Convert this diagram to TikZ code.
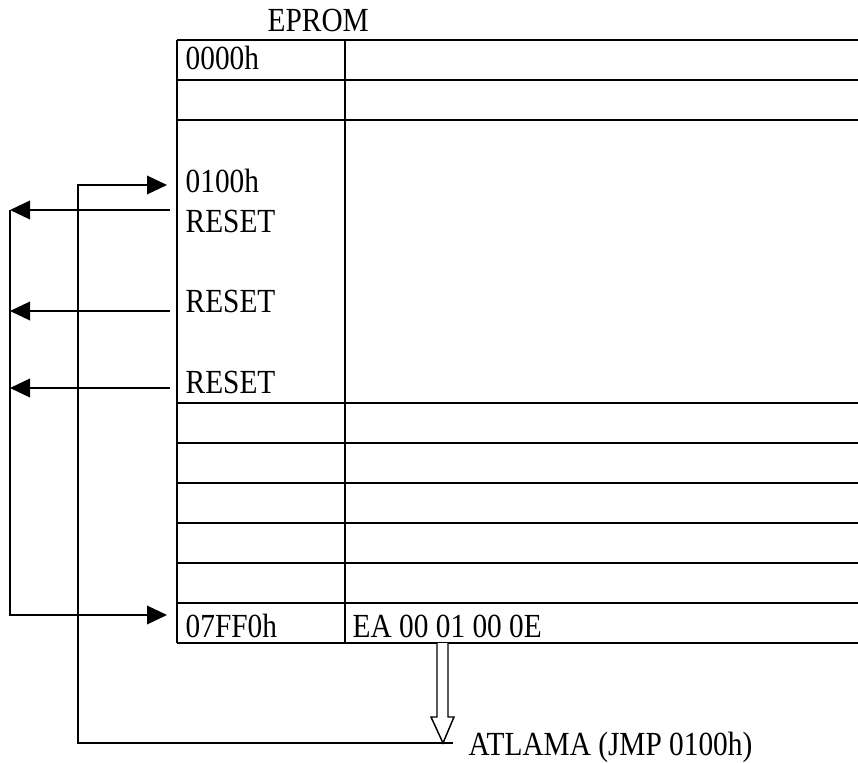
\documentclass[tikz,border=0pt]{standalone}
\usepackage{fontspec}
\setmainfont{Liberation Serif}
\usetikzlibrary{arrows.meta}
\newcommand{\talltxt}[1]{\scalebox{1}[1.15]{#1}}
\begin{document}
\begin{tikzpicture}[x=0.75pt,y=-0.75pt,line width=1.1pt,
  lbl/.style={anchor=base west,inner sep=0pt,font=\fontsize{22}{24}\selectfont},
  tipline/.style={-{Triangle[length=15pt,width=14pt]}},
  grid/.style={line width=1.1pt}]
\useasboundingbox (0,0) rectangle (858,763);
% table
\foreach \yy in {40,80,120,403,443,483,523,563,603,643}
  \draw[grid] (177,\yy) -- (858,\yy);
\draw[grid] (177,40) -- (177,643);
\draw[grid] (345,40) -- (345,643);
% texts
\node[lbl] (eprom) at (267,32) {\talltxt{EPROM}};
\node[lbl] (a0) at (185,70) {\talltxt{0000h}};
\node[lbl] (a100) at (185,193) {\talltxt{0100h}};
\node[lbl] (r1) at (185,233) {\talltxt{RESET}};
\node[lbl] (r2) at (185,313) {\talltxt{RESET}};
\node[lbl] (r3) at (185,393) {\talltxt{RESET}};
\node[lbl] (f0) at (185,637) {\talltxt{07FF0h}};
\node[lbl] (code) at (352,637) {\talltxt{EA 00 01 00 0E}};
\node[lbl] (jmp) at (468,755) {\talltxt{ATLAMA (JMP 0100h)}};
% connector coordinates
\coordinate (r1s) at (170,210);
\coordinate (r2s) at (170,311);
\coordinate (r3s) at (170,388);
\coordinate (r1e) at (10,210);
\coordinate (r2e) at (10,311);
\coordinate (r3e) at (10,388);
\coordinate (lb) at (10,615);
\coordinate (f0t) at (167,615);
\coordinate (mt) at (78,185);
\coordinate (a100t) at (167,185);
\coordinate (mb) at (78,743);
\coordinate (jb) at (453,743);
% reset arrows
\draw[tipline] (r1s) -- (r1e);
\draw[tipline] (r2s) -- (r2e);
\draw[tipline] (r3s) -- (r3e);
\draw[tipline] (r1e) -- (lb) -- (f0t);
% jump loop
\draw[tipline] (jb) -- (mb) -- (mt) -- (a100t);
% hollow block arrow
\draw[line width=1.1pt,fill=white] (437,643) -- (437,717) -- (431,717) -- (443,743) -- (454,717) -- (448,717) -- (448,643);
\end{tikzpicture}
\end{document}
